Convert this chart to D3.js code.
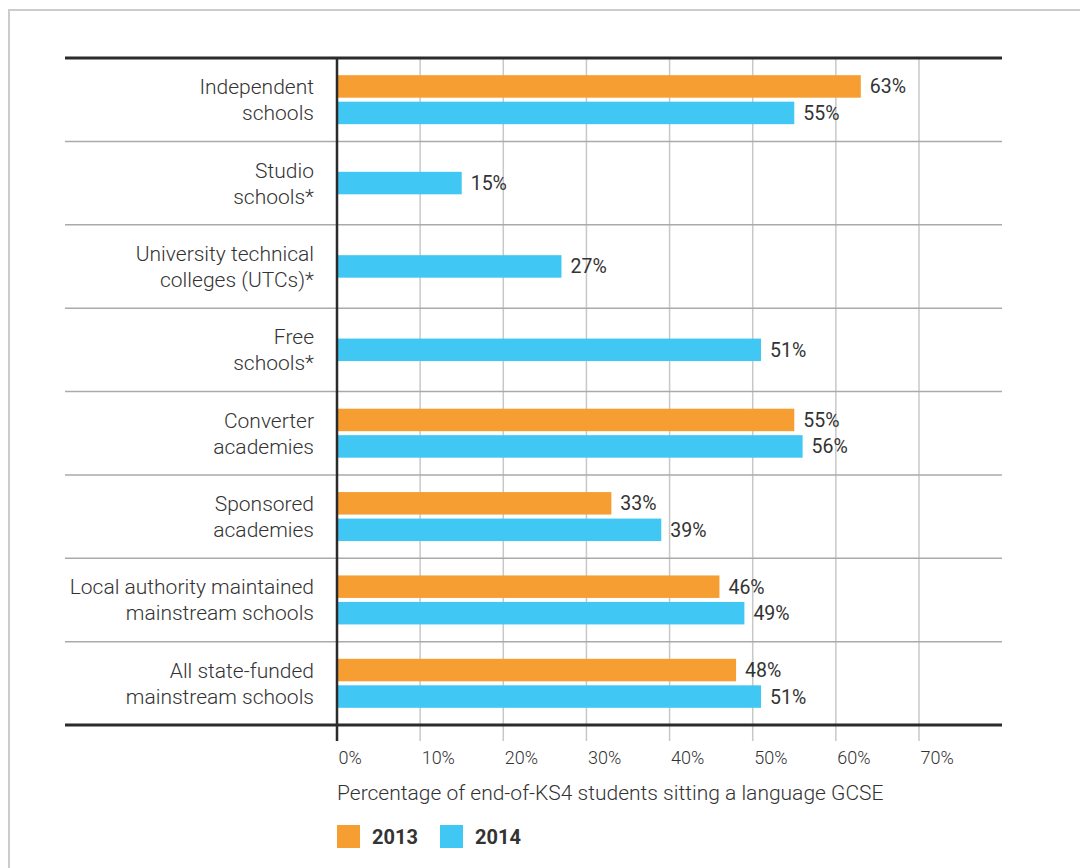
<!DOCTYPE html>
<html>
<head>
<meta charset="utf-8">
<script src="https://cdn.jsdelivr.net/npm/d3@7"></script>
<style>
  html, body { margin: 0; padding: 0; background: #fff; }
  svg { display: block; }
  text { font-family: Roboto, "Liberation Sans", sans-serif; fill: #333; }
</style>
</head>
<body>
<svg id="chart" width="1080" height="868"></svg>
<script>
const categories = [
  ["Independent", "schools"],
  ["Studio", "schools*"],
  ["University technical", "colleges (UTCs)*"],
  ["Free", "schools*"],
  ["Converter", "academies"],
  ["Sponsored", "academies"],
  ["Local authority maintained", "mainstream schools"],
  ["All state-funded", "mainstream schools"]
];
const values2013 = [63, null, null, null, 55, 33, 46, 48];
const values2014 = [55, 15, 27, 51, 56, 39, 49, 51];
const seriesNames = ["2013", "2014"];
const seriesColors = ["#F79E33", "#40C7F4"];
const xTicks = [0, 10, 20, 30, 40, 50, 60, 70];
const axisTitle = "Percentage of end-of-KS4 students sitting a language GCSE";

const svg = d3.select("#chart");

// frame
svg.append("rect").attr("x", 9).attr("y", 10).attr("width", 1100).attr("height", 900)
  .attr("fill", "none").attr("stroke", "#cccccc").attr("stroke-width", 2);

const plotLeft = 337, plotRight = 919, plotTop = 58, plotBottom = 725;
const x = d3.scaleLinear().domain([0, 70]).range([plotLeft, plotRight]);
const y = d3.scaleBand().domain(d3.range(categories.length)).range([plotTop, plotBottom]);
const barH = 22.5, gap = 4;

// gridlines
svg.append("g").selectAll("line").data(xTicks.slice(1)).join("line")
  .attr("x1", d => x(d)).attr("x2", d => x(d))
  .attr("y1", plotTop).attr("y2", 741)
  .attr("stroke", "#c8c8c8").attr("stroke-width", 1.5);

// separators
svg.append("g").selectAll("line").data(d3.range(1, categories.length)).join("line")
  .attr("x1", 65).attr("x2", 1002)
  .attr("y1", d => y(d)).attr("y2", d => y(d))
  .attr("stroke", "#aaaaaa").attr("stroke-width", 1.5);

// bars
const rows = categories.map((c, i) => ({ i, v13: values2013[i], v14: values2014[i] }));
const bars = [];
rows.forEach(r => {
  const bt = y(r.i), bh = y.bandwidth();
  if (r.v13 == null) {
    bars.push({ v: r.v14, s: 1, y: bt + (bh - barH) / 2 });
  } else {
    const start = bt + (bh - (2 * barH + gap)) / 2;
    bars.push({ v: r.v13, s: 0, y: start });
    bars.push({ v: r.v14, s: 1, y: start + barH + gap });
  }
});

svg.append("g").selectAll("rect").data(bars).join("rect")
  .attr("x", x(0)).attr("y", d => d.y)
  .attr("width", d => x(d.v) - x(0)).attr("height", barH)
  .attr("fill", d => seriesColors[d.s]);

svg.append("g").selectAll("text").data(bars).join("text")
  .attr("x", d => x(d.v) + 9).attr("y", d => d.y + barH / 2)
  .attr("dy", "0.36em")
  .style("font-size", "19.5px").style("font-weight", 400)
  .text(d => d.v + "%");

// category labels
const lab = svg.append("g").selectAll("text").data(categories).join("text")
  .attr("text-anchor", "end")
  .style("font-size", "21px").style("font-weight", 300);
lab.each(function(d, i) {
  const cy = y(i) + y.bandwidth() / 2;
  const t = d3.select(this);
  t.append("tspan").attr("x", 314).attr("y", cy - 13).attr("dy", "0.36em").text(d[0]);
  t.append("tspan").attr("x", 314).attr("y", cy + 13).attr("dy", "0.36em").text(d[1]);
});

// axis lines
svg.append("line").attr("x1", 65).attr("x2", 1002).attr("y1", plotTop).attr("y2", plotTop)
  .attr("stroke", "#2b2b2b").attr("stroke-width", 3);
svg.append("line").attr("x1", 65).attr("x2", 1002).attr("y1", plotBottom).attr("y2", plotBottom)
  .attr("stroke", "#2b2b2b").attr("stroke-width", 3);
svg.append("line").attr("x1", x(0)).attr("x2", x(0)).attr("y1", plotTop).attr("y2", 741)
  .attr("stroke", "#2b2b2b").attr("stroke-width", 2.5);

// x axis labels
const xAxis = d3.axisBottom(x).tickValues(xTicks).tickFormat(d => d + "%").tickSize(0);
const ax = svg.append("g").attr("transform", `translate(0, 750)`).call(xAxis);
ax.select(".domain").remove();
ax.selectAll("text")
  .attr("text-anchor", "start").attr("x", 1).attr("y", 0).attr("dy", "0.76em")
  .style("font-size", "18px").style("font-weight", 300)
  .style("font-family", 'Roboto, "Liberation Sans", sans-serif').attr("fill", "#333");

svg.append("text").attr("x", plotLeft).attr("y", 800)
  .style("font-size", "21px").style("font-weight", 300)
  .text(axisTitle);

// legend
const legendX = [337, 440];
seriesNames.forEach((n, i) => {
  svg.append("rect").attr("x", legendX[i]).attr("y", 825).attr("width", 23).attr("height", 23)
    .attr("fill", seriesColors[i]);
  svg.append("text").attr("x", legendX[i] + 35).attr("y", 837).attr("dy", "0.36em")
    .style("font-size", "20px").style("font-weight", 700).text(n);
});
</script>
</body>
</html>
